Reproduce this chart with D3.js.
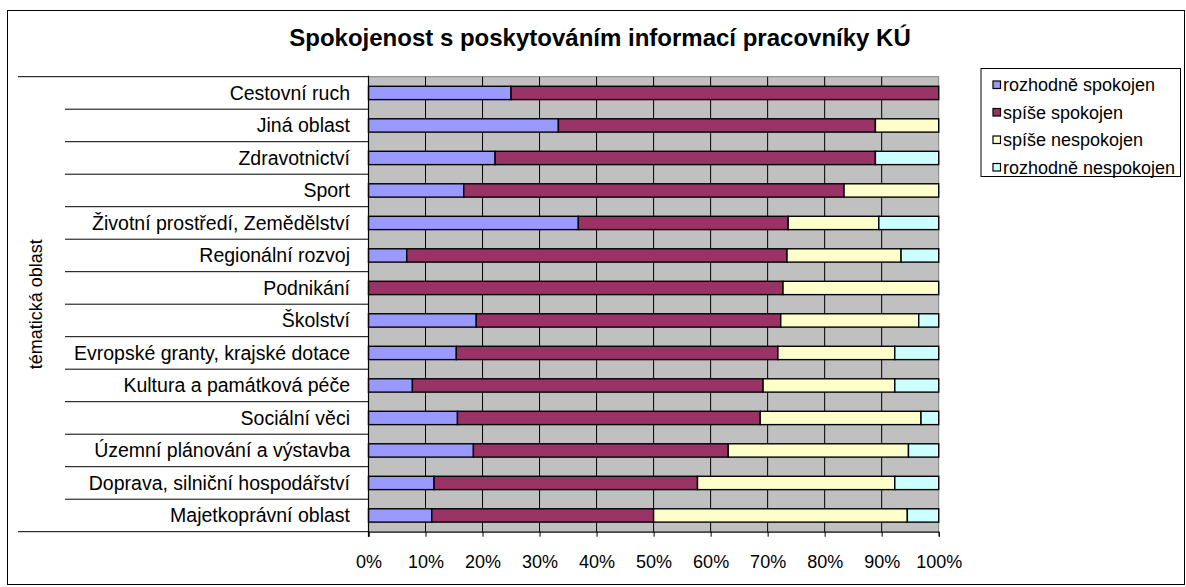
<!DOCTYPE html>
<html><head><meta charset="utf-8">
<script src="https://cdn.jsdelivr.net/npm/d3@7"></script>
<style>body{margin:0;background:#fff}svg{display:block}text{font-family:"Liberation Sans",Arial,sans-serif;fill:#000}</style>
</head><body><svg id="c" width="1186" height="587"></svg>
<script>
const categories = ["Cestovní ruch","Jiná oblast","Zdravotnictví","Sport","Životní prostředí, Zemědělství","Regionální rozvoj","Podnikání","Školství","Evropské granty, krajské dotace","Kultura a památková péče","Sociální věci","Územní plánování a výstavba","Doprava, silniční hospodářství","Majetkoprávní oblast"];
const seriesNames = ["rozhodně spokojen","spíše spokojen","spíše nespokojen","rozhodně nespokojen"];
const rozhodneSpokojen =   [25.0,33.3,22.2,16.7,36.8, 6.7, 0.0,18.9,15.4, 7.7,15.6,18.4,11.5,11.1];
const spiseSpokojen =      [75.0,55.6,66.7,66.7,36.8,66.7,72.7,53.4,56.4,61.5,53.1,44.7,46.2,38.9];
const spiseNespokojen =    [ 0.0,11.1, 0.0,16.6,15.9,20.0,27.3,24.2,20.5,23.1,28.2,31.6,34.6,44.5];
const rozhodneNespokojen = [ 0.0, 0.0,11.1, 0.0,10.5, 6.6, 0.0, 3.5, 7.7, 7.7, 3.1, 5.3, 7.7, 5.5];
const xTicks = [0,10,20,30,40,50,60,70,80,90,100];
const colors = ["#9999FF","#993366","#FFFFCC","#CCFFFF"];

const svg = d3.select("#c");
const L = 368.5, R = 938.7, T = 76.7, B = 531.7;
const x = d3.scaleLinear().domain([0,100]).range([L,R]);
const y = d3.scaleBand().domain(categories).range([T,B]).padding(0);

// outer chart border
svg.append("rect").attr("x",7.5).attr("y",10.5).attr("width",1177).attr("height",574)
  .attr("fill","#fff").attr("stroke","#000").attr("stroke-width",1);

// title
svg.append("text").attr("x",600).attr("y",46).attr("text-anchor","middle")
  .style("font-size","24px").style("font-weight","bold")
  .text("Spokojenost s poskytováním informací pracovníky KÚ");

// plot area
svg.append("rect").attr("x",L).attr("y",T).attr("width",R-L).attr("height",B-T)
  .attr("fill","#C0C0C0").attr("stroke","#808080").attr("stroke-width",1);

// vertical gridlines
svg.append("g").selectAll("line").data(xTicks.filter(d=>d>0&&d<100)).join("line")
  .attr("x1",d=>x(d)).attr("x2",d=>x(d)).attr("y1",T).attr("y2",B)
  .attr("stroke","#000").attr("stroke-width",1);

// stacked bars
const rows = categories.map((c,i)=>({cat:c, vals:[rozhodneSpokojen[i],spiseSpokojen[i],spiseNespokojen[i],rozhodneNespokojen[i]]}));
const barH = y.bandwidth()*0.41;
const gBars = svg.append("g");
rows.forEach(r=>{
  let acc = 0;
  r.vals.forEach((v,k)=>{
    if (v<=0) return;
    gBars.append("rect")
      .attr("x",x(acc)).attr("width",x(acc+v)-x(acc))
      .attr("y",y(r.cat)+(y.bandwidth()-barH)/2).attr("height",barH)
      .attr("fill",colors[k]).attr("stroke","#000").attr("stroke-width",1.4);
    acc += v;
  });
});

// category axis (left) with separators
const gY = svg.append("g");
gY.append("line").attr("x1",L).attr("x2",L).attr("y1",T-1).attr("y2",B+5).attr("stroke","#000").attr("stroke-width",1.2);
const bounds = categories.map(c=>y(c)).concat([B]);
bounds.forEach((b,i)=>{
  const outer = (i===0||i===bounds.length-1);
  gY.append("line").attr("x1",outer?18:65).attr("x2",L).attr("y1",b).attr("y2",b)
    .attr("stroke","#000").attr("stroke-width",1);
});
gY.selectAll("text.cat").data(categories).join("text").attr("class","cat")
  .attr("x",350).attr("y",d=>y(d)+y.bandwidth()/2).attr("dy","0.35em")
  .attr("text-anchor","end").style("font-size","19.5px").text(d=>d);

// y axis title
svg.append("text").attr("transform",`translate(42,${(T+B)/2}) rotate(-90)`)
  .attr("text-anchor","middle").style("font-size","18px").text("tématická oblast");

// x axis
const xAxis = d3.axisBottom(x).tickValues(xTicks).tickFormat(d=>d+"%").tickSize(5).tickPadding(19);
const gX = svg.append("g").attr("transform",`translate(0,${B})`).call(xAxis);
gX.select(".domain").attr("stroke","#000");
gX.selectAll(".tick line").attr("stroke","#000");
gX.selectAll("text").style("font-size","18px").style("font-family","'Liberation Sans',Arial,sans-serif").attr("fill","#000");

// legend
const lg = svg.append("g");
lg.append("rect").attr("x",981).attr("y",68.5).attr("width",199.5).attr("height",108)
  .attr("fill","#fff").attr("stroke","#000").attr("stroke-width",1);
const lgY = [91,118.5,146,173.5];
seriesNames.forEach((s,k)=>{
  lg.append("rect").attr("x",993).attr("y",lgY[k]-10).attr("width",7.5).attr("height",7.5)
    .attr("fill",colors[k]).attr("stroke","#000").attr("stroke-width",1.2);
  lg.append("text").attr("x",1003).attr("y",lgY[k]).style("font-size","18px").text(s);
});
</script></body></html>
